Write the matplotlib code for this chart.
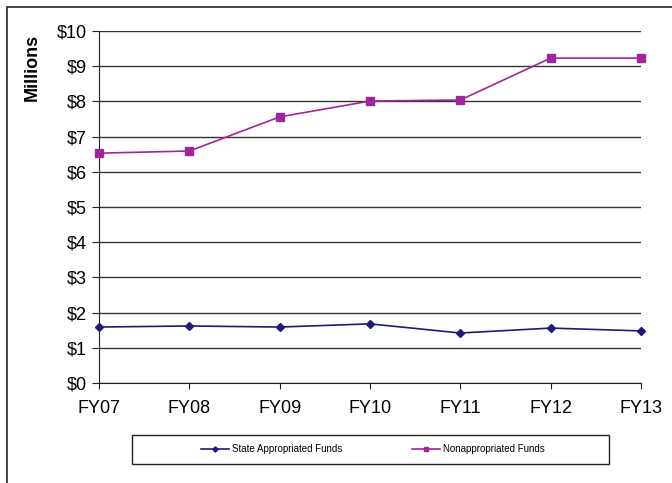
import matplotlib.pyplot as plt
from matplotlib.patches import Rectangle

plt.rcParams['font.family'] = ['Liberation Sans', 'DejaVu Sans']

years = ["FY07", "FY08", "FY09", "FY10", "FY11", "FY12", "FY13"]
state_funds = [1.59, 1.62, 1.59, 1.68, 1.42, 1.56, 1.48]
nonapp_funds = [6.53, 6.59, 7.56, 8.01, 8.04, 9.23, 9.23]

W, H = 672, 483
fig = plt.figure(figsize=(W / 100, H / 100), dpi=100)
ax = fig.add_axes([99 / W, 1 - 383 / H, (641 - 99) / W, (383 - 31) / H])

x = range(len(years))
ax.plot(x, state_funds, color="#1f1a7a", marker="D", markersize=4.5, linewidth=1.2,
        label="State Appropriated Funds", clip_on=False, zorder=3)
ax.plot(x, nonapp_funds, color="#a0259a", marker="s", markersize=5.5, linewidth=1.2,
        label="Nonappropriated Funds", clip_on=False, zorder=3)

ax.set_ylim(0, 10)
ax.set_xlim(0, len(years) - 1)
ax.set_yticks(range(0, 11))
ax.set_yticklabels([f"${v}" for v in range(0, 11)], fontsize=13)
ax.set_xticks(list(x))
ax.set_xticklabels(years, fontsize=13)
ax.yaxis.grid(True, color="#333333", linewidth=1.0)
ax.set_axisbelow(True)
for s in ["top", "right"]:
    ax.spines[s].set_visible(False)
ax.spines["left"].set_color("#222222")
ax.spines["bottom"].set_color("#222222")
ax.tick_params(axis="y", length=5, color="#222222", pad=4)
ax.tick_params(axis="x", length=4, color="#222222", pad=8)

fig.text(32 / W, 1 - 67 / H, "Millions", rotation=90, ha="center", va="center",
         fontsize=13, fontweight="bold")

# outer frame
fig.patches.append(Rectangle((7 / W, -0.01), 1.0, 1 - 7 / H + 0.01,
                             transform=fig.transFigure, fill=False,
                             edgecolor="#222222", linewidth=1.2))

# legend box
fig.patches.append(Rectangle((132 / W, 1 - 464 / H), (609 - 132) / W, 29 / H,
                             transform=fig.transFigure, fill=False,
                             edgecolor="#222222", linewidth=1.0))
leg = fig.legend(loc="center", bbox_to_anchor=(373 / W, 1 - 449.5 / H),
                 ncol=2, fontsize=7, frameon=False, columnspacing=7.2,
                 handlelength=2.9, handletextpad=0.3, markerscale=0.6,
                 borderaxespad=0)

fig.savefig("out.png", dpi=100)
